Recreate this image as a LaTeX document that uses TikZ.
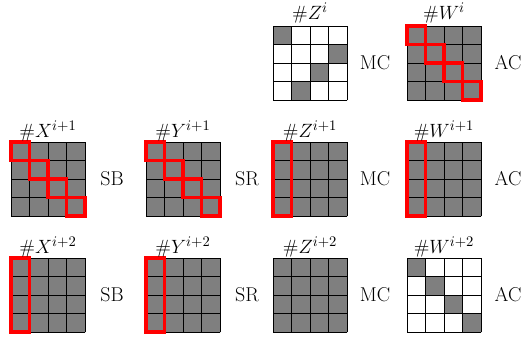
\documentclass[tikz,border=0pt]{standalone}
\usetikzlibrary{positioning}
\definecolor{cellgray}{RGB}{127,127,127}
\definecolor{markred}{RGB}{255,0,0}
\begin{document}
\begin{tikzpicture}[
    x=0.75pt, y=-0.75pt,
    mat/.style={x=13.875pt, y=-13.875pt},
    gridln/.style={draw=black, line width=0.65pt, line cap=rect},
    redbox/.style={draw=markred, line width=2.3pt},
    ttl/.style={anchor=base, inner sep=0pt, font=\fontsize{15}{18}\selectfont},
    side/.style={inner sep=0pt, font=\fontsize{15}{18}\selectfont}
  ]
  \useasboundingbox (0,0) rectangle (522,339);

  % fully gray matrices
  \foreach \px/\py in {407/26, 11/142, 146/142, 273/142, 407/142, 11/258, 146/258, 273/258}
    \fill[cellgray] (\px,\py) rectangle ++(74,74);

  % sparse matrices
  \begin{scope}[shift={(273,26)}, mat]
    \foreach \c/\r in {0/0, 3/1, 2/2, 1/3}
      \fill[cellgray] (\c,\r) rectangle ++(1,1);
  \end{scope}
  \begin{scope}[shift={(407,258)}, mat]
    \foreach \k in {0,...,3}
      \fill[cellgray] (\k,\k) rectangle ++(1,1);
  \end{scope}

  % grid lines
  \foreach \px/\py in {273/26, 407/26, 11/142, 146/142, 273/142, 407/142, 11/258, 146/258, 273/258, 407/258} {
    \begin{scope}[shift={(\px,\py)}, mat]
      \foreach \k in {0,...,4} {
        \draw[gridln] (\k,0) -- (\k,4);
        \draw[gridln] (0,\k) -- (4,\k);
      }
    \end{scope}
  }

  % red outlines
  \foreach \px/\py in {407/26, 11/142, 146/142} {
    \begin{scope}[shift={(\px,\py)}, mat]
      \foreach \k in {0,...,3}
        \draw[redbox] (\k,\k) rectangle ++(1,1);
    \end{scope}
  }
  \foreach \px/\py in {273/142, 407/142, 11/258, 146/258} {
    \begin{scope}[shift={(\px,\py)}, mat]
      \draw[redbox] (0,0) rectangle (1,4);
    \end{scope}
  }

  % titles
  \foreach \nm/\cx/\by/\txt in {Za/310/19/{$\#Z^{i}$}, Wa/444/19/{$\#W^{i}$},
      Xb/48/137/{$\#X^{i+1}$}, Yb/183/137/{$\#Y^{i+1}$}, Zb/310/137/{$\#Z^{i+1}$}, Wb/444/137/{$\#W^{i+1}$},
      Xc/48/253/{$\#X^{i+2}$}, Yc/183/253/{$\#Y^{i+2}$}, Zc/310/253/{$\#Z^{i+2}$}, Wc/444/253/{$\#W^{i+2}$}}
    \node[ttl] (t\nm) at (\cx,\by) {\txt};

  % side labels
  \foreach \nm/\cx/\cy/\txt in {Za/375/63/MC, Wa/508/63/AC,
      Xb/112/179/SB, Yb/247/179/SR, Zb/375/179/MC, Wb/508/179/AC,
      Xc/112/295/SB, Yc/247/295/SR, Zc/375/295/MC, Wc/508/295/AC}
    \node[side] (s\nm) at (\cx,\cy) {\txt};
\end{tikzpicture}
\end{document}
